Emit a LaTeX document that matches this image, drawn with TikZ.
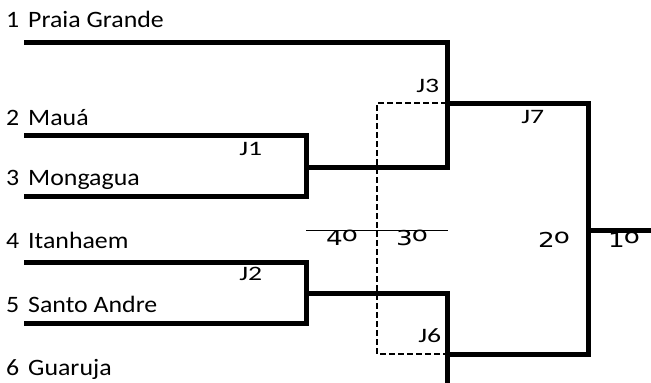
\documentclass[tikz,border=0pt]{standalone}
\usepackage{fontspec}
\setmainfont{Carlito}
\newfontfamily\placefont{DejaVu Sans}
\newcommand{\ordo}{\kern-0.03em\raisebox{0.17em}{o}}
\tikzset{
  team/.style={anchor=base west, inner sep=0pt, font=\fontsize{23.5}{24}\selectfont, xscale=1.1},
  game/.style={anchor=base west, inner sep=0pt, font=\fontsize{20.5}{21}\selectfont, xscale=1.35},
  place/.style={anchor=base, inner sep=0pt, font=\placefont\fontsize{20.5}{21}\selectfont, xscale=1.28},
  bracket/.style={line width=5pt, line join=miter},
  loser/.style={line width=2.5pt, dash pattern=on 6pt off 3pt}
}
\begin{document}
\begin{tikzpicture}[x=1pt, y=-1pt]
        \useasboundingbox (0,0) rectangle (651,383);

        % Teams
        \foreach \n/\t/\y in {1/Praia Grande/27, 2/Mauá/125, 3/Mongagua/185,
                              4/Itanhaem/248, 5/Santo Andre/312, 6/Guaruja/375}
          {
            \node[team] (n\n) at (6,\y) {\n};
            \node[team] (t\n) at (28,\y) {\t};
          }

        % Bracket corners
        \coordinate (j1) at (306,167);
        \coordinate (j2) at (306,293);
        \coordinate (j3) at (447,103);
        \coordinate (j6) at (447,354);
        \coordinate (j7) at (588,230);

        % First round
        \draw[bracket] (24,135) -| (j1) |- (24,196);
        \draw[bracket] (24,262) -| (j2) |- (24,323);

        % Semi finals
        \draw[bracket] (24,42) -| (447,167) -- (j1);
        \draw[bracket] (j2) -| (447,383);

        % Final
        \draw[bracket] (j3) -| (j7) |- (j6);
        \draw[bracket] (j7) -- (651,230);

        % Third place
        \draw[loser] (j3) -| (377,354) -- (j6);
        \draw[line width=1pt] (306,230) -- (448,230);

        % Game labels
        \node[game] (g1) at (239,155) {J1};
        \node[game] (g2) at (239,280) {J2};
        \node[game] (g3) at (416,92) {J3};
        \node[game] (g7) at (521,123) {J7};
        \node[game] (g6) at (418,342) {J6};

        % Places
        \node[place] (p4) at (342,245) {4\ordo};
        \node[place] (p3) at (412,245) {3\ordo};
        \node[place] (p2) at (554,247) {2\ordo};
        \node[place] (p1) at (624,247) {1\ordo};
    \end{tikzpicture}
\end{document}
